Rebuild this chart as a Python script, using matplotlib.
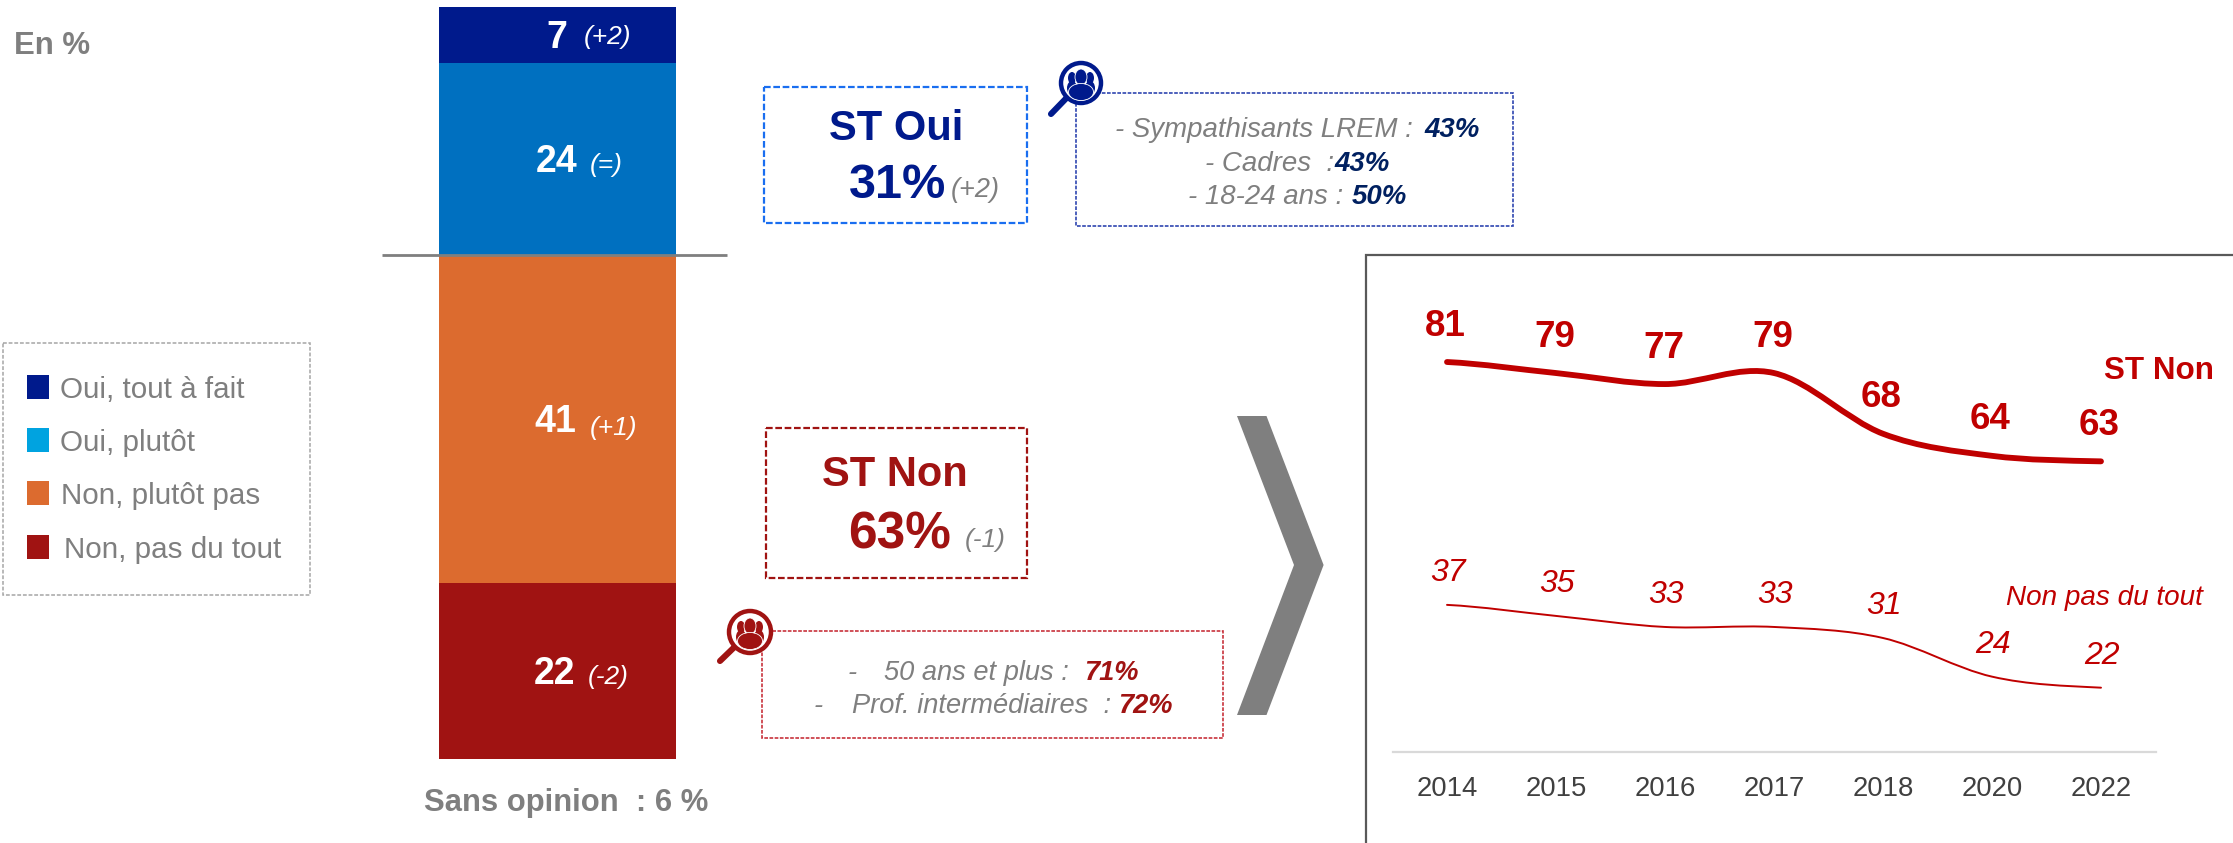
import math
import matplotlib
matplotlib.use("Agg")
import matplotlib.pyplot as plt
from matplotlib.patches import Rectangle, Circle, Ellipse, Polygon, PathPatch
from matplotlib.path import Path

plt.rcParams['font.family'] = ['Liberation Sans', 'DejaVu Sans']

# ---- data ----
stack_labels = ["Non, pas du tout", "Non, plutôt pas", "Oui, plutôt", "Oui, tout à fait"]
stack_values = [22, 41, 24, 7]
stack_deltas = ["(-2)", "(+1)", "(=)", "(+2)"]
stack_colors = ["#A01312", "#DC6B2F", "#0070C0", "#001A8C"]
legend_labels = ["Oui, tout à fait", "Oui, plutôt", "Non, plutôt pas", "Non, pas du tout"]
legend_colors = ["#001A8C", "#00A3E0", "#DC6B2F", "#A01312"]
years = ["2014", "2015", "2016", "2017", "2018", "2020", "2022"]
st_non = [81, 79, 77, 79, 68, 64, 63]
non_pas_du_tout = [37, 35, 33, 33, 31, 24, 22]

W, H = 2233, 843
GREY = "#7F7F7F"
RED = "#C00000"
DKRED = "#A01312"
NAVY = "#001A8C"
PX = 72 / 100  # points per pixel

fig = plt.figure(figsize=(W / 100, H / 100), dpi=100)


def axes_px(x0, y0, x1, y1, **kw):
    return fig.add_axes([x0 / W, 1 - y1 / H, (x1 - x0) / W, (y1 - y0) / H], **kw)


# ---- stacked bar ----
axb = axes_px(439, 7, 676, 759)
bottom = 0
for v, c in zip(stack_values, stack_colors):
    axb.bar(0, v, width=1, bottom=bottom, color=c, linewidth=0)
    bottom += v
axb.set_xlim(-0.5, 0.5)
axb.set_ylim(0, sum(stack_values))
axb.axis("off")

# ---- line chart ----
PX_PER_UNIT = 5.52
axl = axes_px(1392.5, 255, 2155.5, 752)
y_low = 81 - (752 - 362) / PX_PER_UNIT
y_high = 81 + (362 - 255) / PX_PER_UNIT
axl.set_xlim(-0.5, len(years) - 0.5)
axl.set_ylim(y_low, y_high)


def smooth_path(values):
    """Cubic Bezier through the values (Catmull-Rom tangents, as a spreadsheet's smoothed line)."""
    n = len(values)
    verts = [(0, values[0])]
    codes = [Path.MOVETO]
    for i in range(n - 1):
        p0 = values[max(i - 1, 0)]
        p1 = values[i]
        p2 = values[i + 1]
        p3 = values[min(i + 2, n - 1)]
        verts += [(i + 1 / 3, p1 + (p2 - p0) / 6), (i + 2 / 3, p2 - (p3 - p1) / 6), (i + 1, p2)]
        codes += [Path.CURVE4] * 3
    return Path(verts, codes)


axl.add_patch(PathPatch(smooth_path(st_non), fc="none", ec=RED, lw=4.2, capstyle="round"))
axl.add_patch(PathPatch(smooth_path(non_pas_du_tout), fc="none", ec=RED, lw=1.4, capstyle="round"))

for i, v in enumerate(st_non):
    axl.annotate(str(v), (i, v), xytext=(-1.5, 39.5 - 13), textcoords="offset pixels",
                 ha="center", va="baseline", fontsize=26.5, fontweight="bold", color=RED)
for i, v in enumerate(non_pas_du_tout):
    axl.annotate(str(v), (i, v), xytext=(1, 35 - 11), textcoords="offset pixels",
                 ha="center", va="baseline", fontsize=23, fontstyle="italic", color=RED)

axl.set_xticks(range(len(years)))
axl.set_xticklabels(years, fontsize=19.8, color="#404040")
axl.tick_params(axis="x", length=0, pad=17)
axl.set_yticks([])
for s in ("top", "left", "right"):
    axl.spines[s].set_visible(False)
axl.spines["bottom"].set_color("#D9D9D9")
axl.spines["bottom"].set_linewidth(1.6)
axl.patch.set_alpha(0)

# ---- overlay in pixel coordinates for the slide furniture ----
ov = fig.add_axes([0, 0, 1, 1], zorder=5)
ov.set_xlim(0, W)
ov.set_ylim(H, 0)
ov.axis("off")
ov.patch.set_alpha(0)


def T(x, yc, s, size, color=GREY, ha="left", weight="normal", style="normal", frac=0.358):
    """Text whose cap-height centre sits at pixel height yc."""
    ov.text(x, yc + frac * size / PX, s, fontsize=size, color=color, ha=ha, va="baseline",
            fontweight=weight, fontstyle=style)


def box(x0, y0, x1, y1, color, lw, dash=(3, 1.2)):
    ov.add_patch(Rectangle((x0, y0), x1 - x0, y1 - y0, fc="none", ec=color, lw=lw,
                           linestyle=(0, dash)))


def loupe(cx, cy, r, hx, hy, color):
    ang = math.atan2(hy - cy, hx - cx)
    sx, sy = cx + r * math.cos(ang), cy + r * math.sin(ang)
    ov.plot([sx, hx], [sy, hy], color=color, lw=4.4, solid_capstyle="round", zorder=8)
    ov.add_patch(Circle((cx, cy), r, fc="white", ec=color, lw=3.2, zorder=9))
    # three silhouettes: two behind, one in front
    ov.add_patch(Ellipse((cx - 9, cy - 5), 8, 12, fc=color, ec="none", zorder=10))
    ov.add_patch(Ellipse((cx + 9, cy - 5), 8, 12, fc=color, ec="none", zorder=10))
    ov.add_patch(Ellipse((cx - 9, cy + 5), 10, 14, fc=color, ec="none", zorder=10))
    ov.add_patch(Ellipse((cx + 9, cy + 5), 10, 14, fc=color, ec="none", zorder=10))
    ov.add_patch(Ellipse((cx, cy - 6), 12, 16, fc=color, ec="white", lw=0.6, zorder=11))
    ov.add_patch(Ellipse((cx, cy + 9), 25, 17, fc=color, ec="white", lw=0.6, zorder=11))


# title
T(14, 43, "En %", 22.4, weight="bold")

# legend
box(3, 343, 310, 595, "#A6A6A6", 1.1, (2.5, 1.2))
legend_y = [386, 439, 492, 546]
legend_tx = [60.5, 60.5, 61, 63.5]
for lab, col, y, tx in zip(legend_labels, legend_colors, legend_y, legend_tx):
    ov.add_patch(Rectangle((27, y - 11.5), 22, 24, fc=col, ec="none"))
    T(tx, y + 1, lab, 21.3)

# bar labels
bar_txt = {7: (556.5, 34.5), 24: (556.5, 159), 41: (555.5, 419), 22: (554.5, 671)}
bar_delta = {"(+2)": (584, 37), "(=)": (590, 165), "(+1)": (590, 428), "(-2)": (588, 677)}
for v, d in zip(stack_values, stack_deltas):
    x, y = bar_txt[v]
    T(x, y, str(v), 27, color="white", ha="center", weight="bold")
    x, y = bar_delta[d]
    T(x, y, d, 19, color="white", style="italic", frac=0.27)

ov.plot([382, 727], [255, 255], color=GREY, lw=2, solid_capstyle="butt", zorder=6)
T(424, 800, "Sans opinion  : 6 %", 22.3, weight="bold")

# ST Oui box
box(764, 87, 1026.5, 223, "#1A6EF0", 1.6)
T(896, 125, "ST Oui", 30, color=NAVY, ha="center", weight="bold")
T(849, 180.5, "31%", 35, color=NAVY, weight="bold")
T(951, 190, "(+2)", 19.5, style="italic", frac=0.27)

# breakdown Oui
box(1076, 93, 1513, 226, "#2F45B0", 1.2, (2.2, 0.9))
VAL1 = "#002060"
for yc, left, txt, xv, val in [
    (127, 1115, "- Sympathisants LREM :", 1424.5, "43%"),
    (161, 1205, "- Cadres  :", 1334.5, "43%"),
    (194, 1188, "- 18-24 ans :", 1352, "50%"),
]:
    T(left, yc, txt, 19.9, style="italic")
    T(xv, yc, val, 19.9, color=VAL1, weight="bold", style="italic")
loupe(1081, 83, 20, 1051, 114, NAVY)

# ST Non box
box(766, 428, 1027, 578, DKRED, 1.6)
T(894.5, 471, "ST Non", 30, color=DKRED, ha="center", weight="bold")
T(848, 530, "63%", 37, color=DKRED, weight="bold")
T(964.5, 540, "(-1)", 19, style="italic", frac=0.27)

# breakdown Non
box(762, 631, 1223, 738, "#C8323C", 1.2, (2.2, 0.9))
for yc, xd, left, txt, xv, val in [
    (670, 848, 884.5, "50 ans et plus :", 1084.5, "71%"),
    (703, 813.5, 852, "Prof. intermédiaires  :", 1118, "72%"),
]:
    T(xd, yc, "-", 19.6, style="italic")
    T(left, yc, txt, 19.6, style="italic")
    T(xv, yc, val, 19.6, color=DKRED, weight="bold", style="italic")
loupe(750, 632, 21, 720, 661, DKRED)

# chevron
ov.add_patch(Polygon([(1237, 416), (1266.5, 416), (1323.6, 565), (1266.5, 715), (1237, 715), (1294, 565)],
                     closed=True, fc=GREY, ec="none"))

# trend panel border
ov.plot([1366, 1366, W], [H, 255, 255], color="#595959", lw=1.6, solid_joinstyle="miter")

# line labels
T(2104, 368, "ST Non", 22.6, color=RED, weight="bold")
T(2006, 595, "Non pas du tout", 20.1, color=RED, style="italic")

fig.savefig("out.png", dpi=100, facecolor="white")
